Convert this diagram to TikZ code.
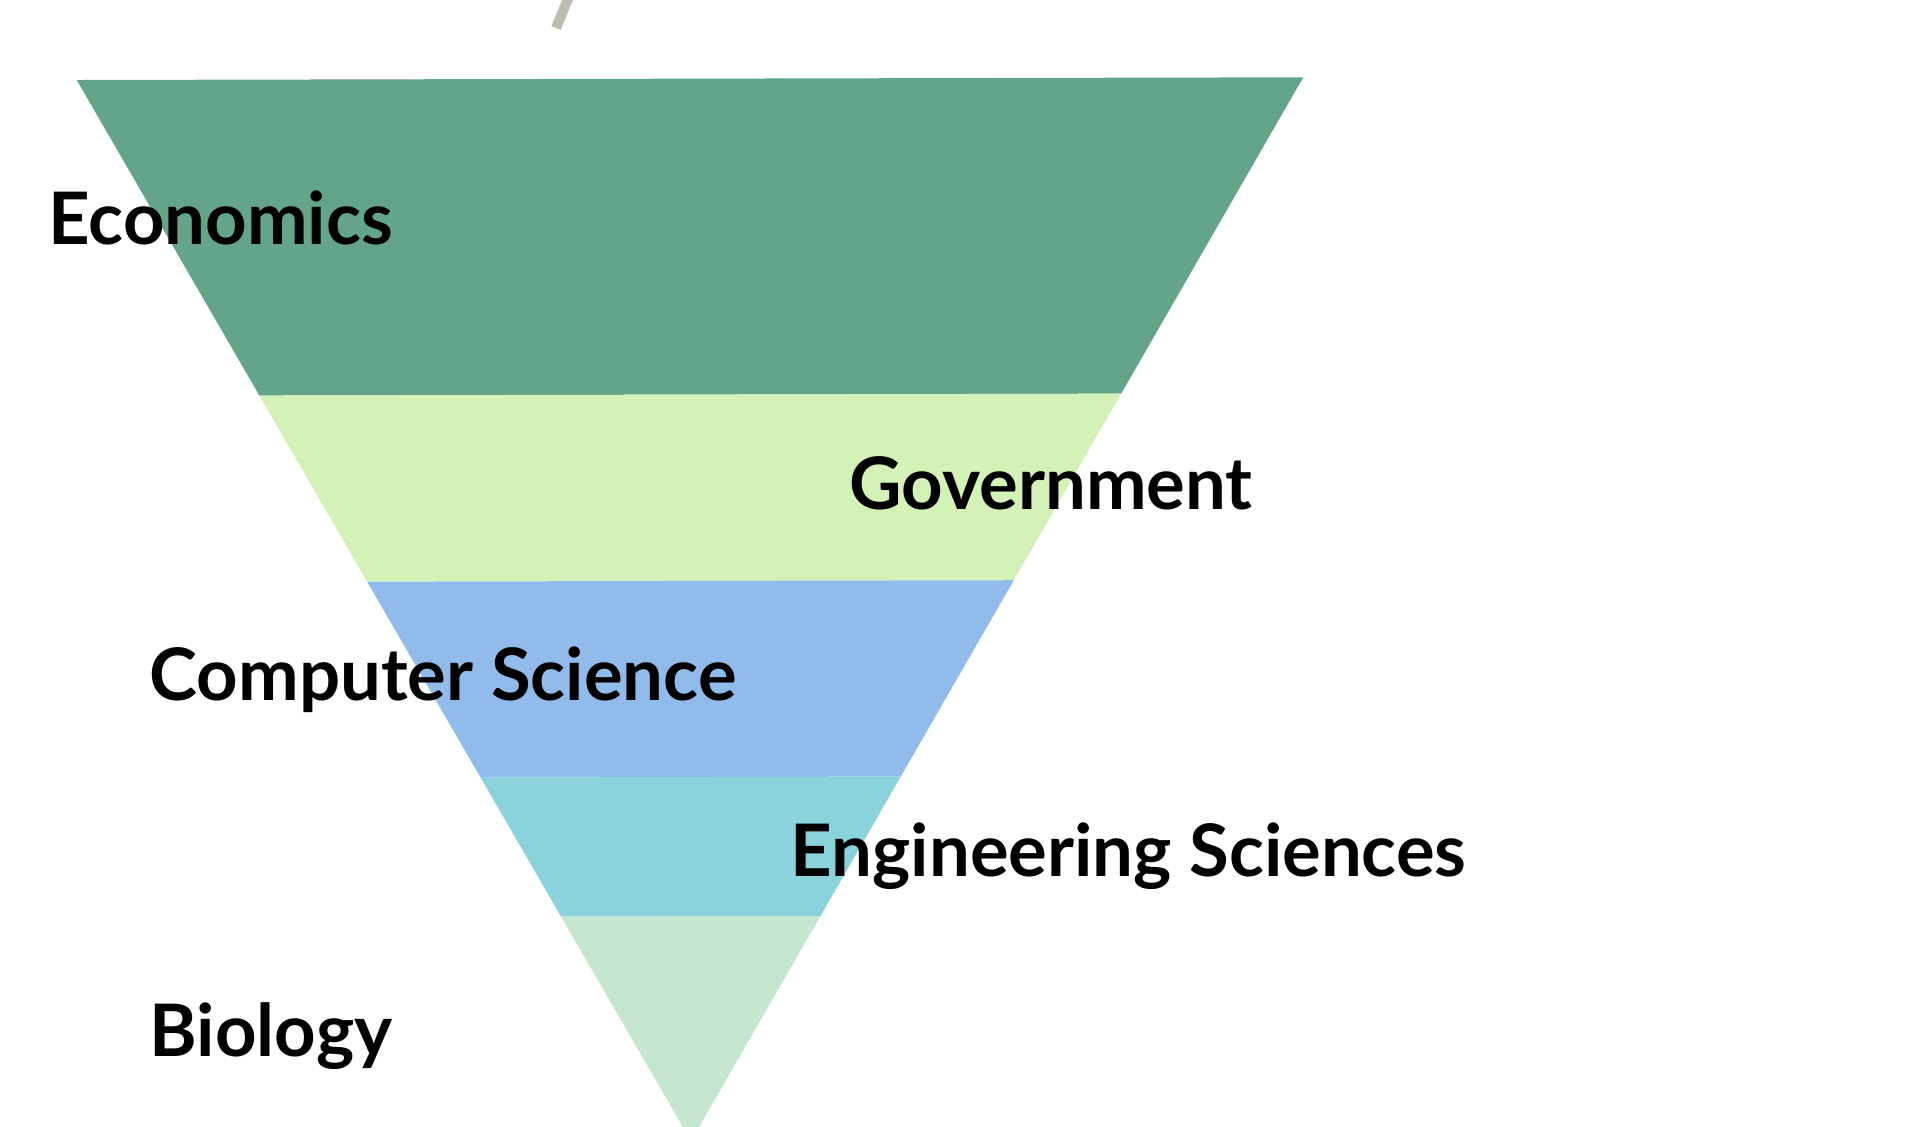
\documentclass[tikz,border=0pt]{standalone}
\usepackage{fontspec}
\setmainfont{Lato}
\usetikzlibrary{calc}
\definecolor{econ}{RGB}{100,165,137}
\definecolor{gov}{RGB}{212,241,183}
\definecolor{comp}{RGB}{145,187,235}
\definecolor{engs}{RGB}{139,211,219}
\definecolor{bio}{RGB}{197,231,208}
\definecolor{stray}{RGB}{190,188,178}
\begin{document}
\begin{tikzpicture}[x=0.01cm,y=-0.01cm,
	band/.style={draw=none},
	lbl/.style={anchor=base west,inner sep=0pt,font=\fontsize{20.6}{24}\selectfont\bfseries}]
	\useasboundingbox (0,0) rectangle (1932,1126);
	\clip (0,0) rectangle (1932,1126);
	% corners of the funnel
	\coordinate (tl) at (76.7,80);
	\coordinate (tr) at (1303.3,77.3);
	\coordinate (tip) at (691,1141);
	% band edges
	\foreach \t [count=\i] in {0.2974,0.4728,0.6574,0.7886} {
		\coordinate (l\i) at ($(tl)!\t!(tip)$);
		\coordinate (r\i) at ($(tr)!\t!(tip)$);
	}
	\fill[band,econ] (tl) -- (tr) -- (r1) -- (l1) -- cycle;
	\fill[band,gov] (l1) -- (r1) -- (r2) -- (l2) -- cycle;
	\fill[band,comp] (l2) -- (r2) -- (r3) -- (l3) -- cycle;
	\fill[band,engs] (l3) -- (r3) -- (r4) -- (l4) -- cycle;
	\fill[band,bio] (l4) -- (r4) -- (tip) -- cycle;
	% stray stroke at the top
	\coordinate (s1) at (570,-6);
	\coordinate (s2) at (556,28);
	\draw[stray,line width=0.1cm] (s1) -- (s2);
	% labels
	\node[lbl] (econlbl) at (48,244) {Economics};
	\node[lbl] (govlbl) at (849,509) {Government};
	\node[lbl] (complbl) at (149,700) {Computer Science};
	\node[lbl] (engslbl) at (790,876) {Engineering Sciences};
	\node[lbl] (biolbl) at (149,1056) {Biology};
\end{tikzpicture}
\end{document}
